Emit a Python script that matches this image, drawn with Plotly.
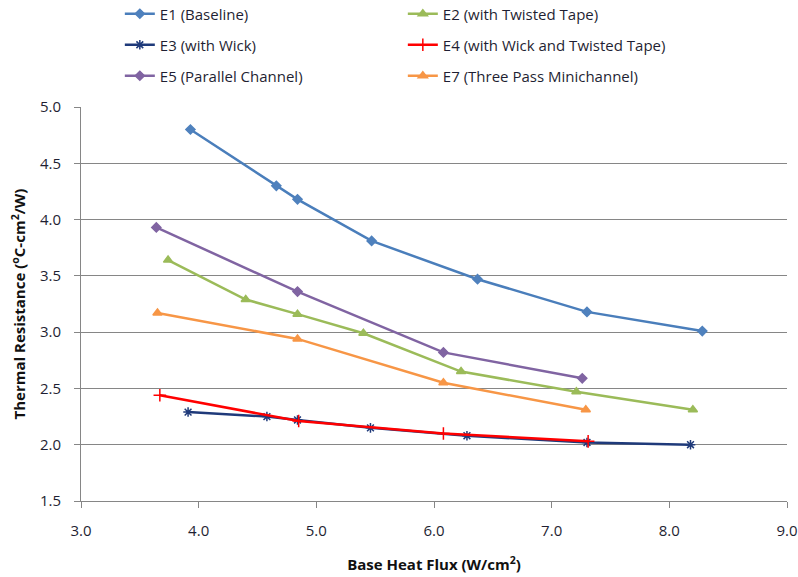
import plotly.graph_objects as go

# ---- data ----
e1_x = [3.93, 4.66, 4.84, 5.47, 6.37, 7.30, 8.28]
e1_y = [4.80, 4.30, 4.18, 3.81, 3.47, 3.18, 3.01]
e2_x = [3.74, 4.40, 4.84, 5.40, 6.23, 7.21, 8.20]
e2_y = [3.64, 3.29, 3.16, 2.99, 2.65, 2.47, 2.31]
e3_x = [3.91, 4.58, 4.84, 5.46, 6.28, 7.30, 8.18]
e3_y = [2.29, 2.25, 2.22, 2.15, 2.08, 2.02, 2.00]
e4_x = [3.67, 4.85, 6.08, 7.31]
e4_y = [2.44, 2.21, 2.10, 2.03]
e5_x = [3.64, 4.84, 6.08, 7.26]
e5_y = [3.93, 3.36, 2.82, 2.59]
e7_x = [3.65, 4.84, 6.08, 7.29]
e7_y = [3.17, 2.94, 2.55, 2.31]

names = ["E1 (Baseline)", "E2 (with Twisted Tape)", "E3 (with Wick)",
         "E4 (with Wick and Twisted Tape)", "E5 (Parallel Channel)",
         "E7 (Three Pass Minichannel)"]
x_ticks = [3.0, 4.0, 5.0, 6.0, 7.0, 8.0, 9.0]
y_ticks = [1.5, 2.0, 2.5, 3.0, 3.5, 4.0, 4.5, 5.0]

FONT = "Open Sans"
TXT = "#1F1F33"
fig = go.Figure()

series = [
    (e1_x, e1_y, names[0], "#4A7EBB", "#4F81BD", "diamond", 7, "legend"),
    (e2_x, e2_y, names[1], "#9BBB59", "#9BBB59", "triangle-up", 8, "legend"),
    (e3_x, e3_y, names[2], "#1F3A7A", "#1F3A7A", "asterisk-open", 8, "legend2"),
    (e4_x, e4_y, names[3], "#FF0000", "#FF0000", "cross-thin-open", 9, "legend2"),
    (e5_x, e5_y, names[4], "#8064A2", "#8064A2", "diamond", 7, "legend3"),
    (e7_x, e7_y, names[5], "#F79646", "#F79646", "triangle-up", 8, "legend3"),
]
for xs, ys, nm, lc, mc, sym, sz, lg in series:
    fig.add_trace(go.Scatter(
        x=xs, y=ys, name=nm, mode="lines+markers",
        line=dict(color=lc, width=2.5),
        marker=dict(symbol=sym, size=sz, color=mc,
                    line=dict(color=mc, width=1.5)),
        legend=lg,
    ))

leg_common = dict(orientation="h", xanchor="left", yanchor="middle",
                  x=0.055, entrywidth=238, itemwidth=30,
                  font=dict(family=FONT, size=15, color=TXT),
                  bgcolor="rgba(0,0,0,0)")
plot_h = 394.0
def ypos(py):
    return 1 + (107 - py) / plot_h

fig.update_layout(
    width=798, height=577,
    margin=dict(l=81, r=11, t=107, b=76, autoexpand=False),
    paper_bgcolor="white", plot_bgcolor="white",
    font=dict(family=FONT, size=14, color=TXT),
    legend=dict(**leg_common, y=ypos(14)),
    legend2=dict(**leg_common, y=ypos(45)),
    legend3=dict(**leg_common, y=ypos(76)),
    xaxis=dict(range=[3.0, 9.0], tickvals=x_ticks, tickformat=".1f",
               showgrid=False, showline=True, linecolor="#868686", linewidth=1,
               ticks="outside", ticklen=6, tickcolor="#868686",
               ticklabelstandoff=10,
               tickfont=dict(family=FONT, size=15, color=TXT),
               zeroline=False,
               title=dict(text="<b>Base Heat Flux (W/cm<sup>2</sup>)</b>",
                          font=dict(family=FONT, size=15, color="#111111"),
                          standoff=20)),
    yaxis=dict(range=[1.5, 5.0], tickvals=y_ticks, tickformat=".1f",
               showgrid=True, gridcolor="#868686", gridwidth=1,
               showline=True, linecolor="#868686", linewidth=1,
               ticks="outside", ticklen=6, tickcolor="#868686",
               ticklabelstandoff=10,
               tickfont=dict(family=FONT, size=15, color=TXT),
               zeroline=False,
               title=dict(text="<b>Thermal Resistance (<sup>o</sup>C-cm<sup>2</sup>/W)</b>",
                          font=dict(family=FONT, size=15, color="#111111"),
                          standoff=10)),
)

fig.write_html("out.html")
